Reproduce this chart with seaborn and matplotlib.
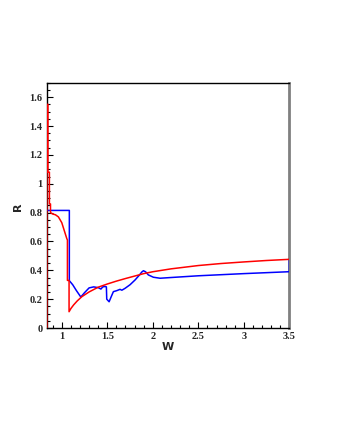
import matplotlib
matplotlib.use("Agg")
import matplotlib.pyplot as plt
import seaborn as sns
import pandas as pd
from matplotlib.ticker import MultipleLocator

# Red curve
red_w = [0.836, 0.836, 0.848, 0.848, 0.864, 0.864, 0.876, 0.876, 0.90, 0.93, 0.963,
         1.0, 1.025, 1.055, 1.062, 1.062, 1.08, 1.08, 1.10, 1.13, 1.17, 1.22, 1.3,
         1.4, 1.5, 1.6, 1.7, 1.8, 1.9, 2.0, 2.2, 2.5, 2.75, 3.0, 3.25, 3.5]
red_r = [0.0, 1.55, 1.55, 1.08, 1.08, 0.86, 0.86, 0.80, 0.79, 0.785, 0.77,
         0.73, 0.68, 0.62, 0.61, 0.33, 0.33, 0.113, 0.135, 0.16, 0.188, 0.217, 0.25,
         0.283, 0.305, 0.325, 0.343, 0.36, 0.377, 0.39, 0.41, 0.433, 0.447, 0.458, 0.468, 0.476]

# Blue curve
blue_w = [0.836, 1.083, 1.083, 1.12, 1.16, 1.209, 1.25, 1.30, 1.35, 1.40, 1.43, 1.45,
          1.475, 1.49, 1.494, 1.52, 1.545, 1.567, 1.604, 1.64, 1.66, 1.695, 1.75,
          1.805, 1.85, 1.879, 1.897, 1.92, 1.951, 2.006, 2.08, 2.2, 2.5, 3.0, 3.49,
          3.5, 3.5]
blue_r = [0.815, 0.815, 0.328, 0.30, 0.26, 0.215, 0.245, 0.278, 0.285, 0.28, 0.27, 0.285,
          0.288, 0.285, 0.20, 0.182, 0.22, 0.252, 0.259, 0.268, 0.262, 0.275, 0.30,
          0.333, 0.365, 0.388, 0.397, 0.39, 0.368, 0.352, 0.345, 0.35, 0.362, 0.377, 0.39,
          0.39, 0.476]

sns.set_style("white")
plt.rcParams['font.family'] = ['Liberation Serif', 'DejaVu Serif']

fig = plt.figure(figsize=(3.4, 4.4), dpi=100)
ax = fig.add_axes([0.137, 0.2545, 0.714, 0.5575])

red_df = pd.DataFrame({"W": red_w, "R": red_r})
blue_df = pd.DataFrame({"W": blue_w, "R": blue_r})

sns.lineplot(data=blue_df, x="W", y="R", sort=False, estimator=None, color="#0000ff",
             linewidth=1.1, ax=ax, zorder=3)
sns.lineplot(data=red_df, x="W", y="R", sort=False, estimator=None, color="#ff0000",
             linewidth=1.1, ax=ax, zorder=3.5)

ax.set_xlim(0.833, 3.5)
ax.set_ylim(0, 1.7)
ax.xaxis.set_major_locator(MultipleLocator(0.5))
ax.xaxis.set_minor_locator(MultipleLocator(0.1))
ax.yaxis.set_major_locator(MultipleLocator(0.2))
ax.yaxis.set_minor_locator(MultipleLocator(0.05))
ax.xaxis.set_major_formatter(matplotlib.ticker.FuncFormatter(lambda v, p: f"{v:g}"))
ax.yaxis.set_major_formatter(matplotlib.ticker.FuncFormatter(lambda v, p: f"{v:g}"))

ax.tick_params(which='both', direction='in', left=True, bottom=True, top=False, right=False,
               color='black', width=0.8)
ax.tick_params(which='major', length=4, labelsize=7.5, pad=3)
ax.tick_params(which='minor', length=2)
for lab in ax.get_xticklabels() + ax.get_yticklabels():
    lab.set_fontweight('bold')

for s in ['left', 'bottom', 'top']:
    ax.spines[s].set_color('black')
    ax.spines[s].set_linewidth(1.0)
ax.spines['right'].set_color('#808080')
ax.spines['right'].set_linewidth(2.0)

ax.set_xlabel("")
ax.set_ylabel("")
ax.text(-0.118, 0.493, "R", transform=ax.transAxes, rotation=90, ha='center', va='center',
        fontsize=8, fontweight='bold', family=['DejaVu Sans'])
ax.text(0.5, -0.078, "W", transform=ax.transAxes, ha='center', va='center',
        fontsize=8, fontweight='bold', family=['DejaVu Sans'])

fig.savefig("out.png", dpi=100, facecolor='white')
